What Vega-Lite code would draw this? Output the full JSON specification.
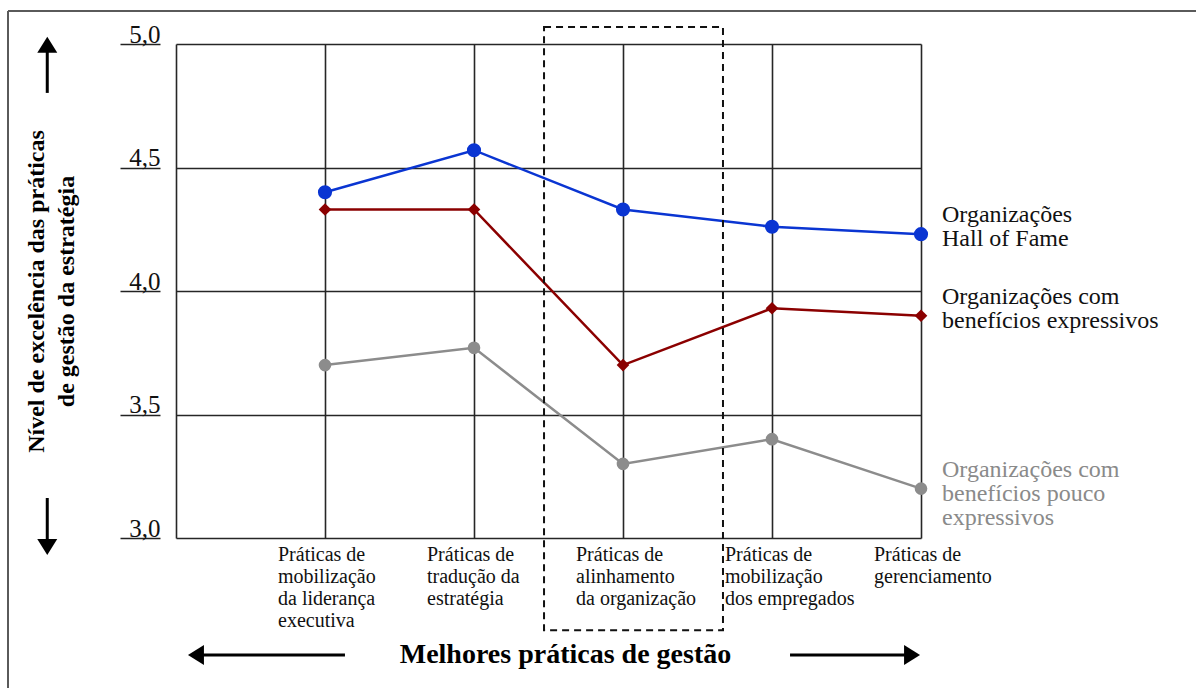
{
  "$schema": "https://vega.github.io/schema/vega-lite/v6.json",
  "width": 745,
  "height": 494,
  "autosize": {"type": "none"},
  "padding": {"left": 176, "top": 44, "right": 275, "bottom": 150},
  "background": "white",
  "config": {"view": {"stroke": null}, "font": "Liberation Serif"},
  "datasets": {
    "medias": [
      {"ordem": 1, "grupo": "Organizações\nHall of Fame", "valor": 4.40},
      {"ordem": 2, "grupo": "Organizações\nHall of Fame", "valor": 4.57},
      {"ordem": 3, "grupo": "Organizações\nHall of Fame", "valor": 4.33},
      {"ordem": 4, "grupo": "Organizações\nHall of Fame", "valor": 4.26},
      {"ordem": 5, "grupo": "Organizações\nHall of Fame", "valor": 4.23},
      {"ordem": 1, "grupo": "Organizações com\nbenefícios expressivos", "valor": 4.33},
      {"ordem": 2, "grupo": "Organizações com\nbenefícios expressivos", "valor": 4.33},
      {"ordem": 3, "grupo": "Organizações com\nbenefícios expressivos", "valor": 3.70},
      {"ordem": 4, "grupo": "Organizações com\nbenefícios expressivos", "valor": 3.93},
      {"ordem": 5, "grupo": "Organizações com\nbenefícios expressivos", "valor": 3.90},
      {"ordem": 1, "grupo": "Organizações com\nbenefícios pouco\nexpressivos", "valor": 3.70},
      {"ordem": 2, "grupo": "Organizações com\nbenefícios pouco\nexpressivos", "valor": 3.77},
      {"ordem": 3, "grupo": "Organizações com\nbenefícios pouco\nexpressivos", "valor": 3.30},
      {"ordem": 4, "grupo": "Organizações com\nbenefícios pouco\nexpressivos", "valor": 3.40},
      {"ordem": 5, "grupo": "Organizações com\nbenefícios pouco\nexpressivos", "valor": 3.20}
    ],
    "praticas": [
      {"ordem": 1, "pratica": "Práticas de\nmobilização\nda liderança\nexecutiva"},
      {"ordem": 2, "pratica": "Práticas de\ntradução da\nestratégia"},
      {"ordem": 3, "pratica": "Práticas de\nalinhamento\nda organização"},
      {"ordem": 4, "pratica": "Práticas de\nmobilização\ndos empregados"},
      {"ordem": 5, "pratica": "Práticas de\ngerenciamento"}
    ]
  },
  "resolve": {"axis": {"x": "independent", "y": "independent"}},
  "layer": [
    {
      "data": {"name": "medias"},
      "mark": {"type": "line", "strokeWidth": 2.5},
      "encoding": {
        "x": {
          "field": "ordem", "type": "quantitative",
          "scale": {"domain": [0, 5], "nice": false, "zero": false},
          "axis": {
            "values": [0, 1, 2, 3, 4, 5], "grid": true, "gridColor": "#262626", "gridWidth": 1.6,
            "domain": false, "ticks": false, "labels": false,
            "title": "Melhores práticas de gestão", "titleFont": "Liberation Serif", "titleFontSize": 28,
            "titleFontWeight": "bold", "titleColor": "#000", "titleX": 389, "titleY": 124,
            "titleAlign": "center", "titleBaseline": "alphabetic"
          }
        },
        "y": {
          "field": "valor", "type": "quantitative",
          "scale": {"domain": [3, 5], "nice": false, "zero": false},
          "axis": {
            "orient": "left",
            "values": [3, 3.5, 4, 4.5, 5], "grid": true, "gridColor": "#262626", "gridWidth": 1.6,
            "domain": false, "ticks": false, "labels": false,
            "title": ["Nível de excelência das práticas", "de gestão da estratégia"],
            "titleFont": "Liberation Serif", "titleFontSize": 24, "titleFontWeight": "bold",
            "titleLineHeight": 30, "titleColor": "#000", "titleAngle": -90,
            "titleX": -140, "titleY": 247, "titleAlign": "center", "titleBaseline": "middle"
          }
        },
        "color": {
          "field": "grupo", "type": "nominal",
          "scale": {
            "domain": ["Organizações\nHall of Fame", "Organizações com\nbenefícios expressivos", "Organizações com\nbenefícios pouco\nexpressivos"],
            "range": ["#0a35d2", "#8b0000", "#8c8c8c"]
          },
          "legend": null
        }
      }
    },
    {
      "data": {"name": "medias"},
      "mark": {"type": "point", "filled": true, "opacity": 1},
      "encoding": {
        "x": {"field": "ordem", "type": "quantitative", "axis": null},
        "y": {
          "field": "valor", "type": "quantitative",
          "axis": {
            "orient": "left",
            "values": [3, 3.5, 4, 4.5, 5], "grid": false, "domain": false, "offset": 16,
            "ticks": true, "tickSize": 40, "tickColor": "#222", "tickWidth": 1.5,
            "labelPadding": -40, "labelAlign": "right", "labelBaseline": "alphabetic", "labelOffset": -2,
            "labelFont": "Liberation Serif", "labelFontSize": 25, "labelColor": "#111",
            "labelExpr": "replace(format(datum.value, '.1f'), '.', ',')", "title": null
          }
        },
        "color": {"field": "grupo", "type": "nominal", "legend": null},
        "shape": {
          "field": "grupo", "type": "nominal",
          "scale": {
            "domain": ["Organizações\nHall of Fame", "Organizações com\nbenefícios expressivos", "Organizações com\nbenefícios pouco\nexpressivos"],
            "range": ["circle", "diamond", "circle"]
          },
          "legend": null
        },
        "size": {
          "condition": {"test": "datum.grupo == 'Organizações\\nHall of Fame'", "value": 200},
          "value": 160
        }
      }
    },
    {
      "data": {"name": "medias"},
      "transform": [{"filter": "datum.ordem == 5"}],
      "mark": {"type": "text", "align": "left", "baseline": "middle", "dx": 21, "dy": -19, "fontSize": 24, "lineHeight": 24, "lineBreak": "\n", "font": "Liberation Serif"},
      "encoding": {
        "x": {"field": "ordem", "type": "quantitative", "axis": null},
        "y": {"field": "valor", "type": "quantitative", "axis": null},
        "text": {"field": "grupo"},
        "color": {
          "condition": {"test": "indexof(datum.grupo, 'pouco') >= 0", "value": "#8a8a8a"},
          "value": "#111"
        }
      }
    },
    {
      "data": {"name": "praticas"},
      "mark": {"type": "text", "align": "left", "baseline": "top", "dx": -47, "dy": 7, "fontSize": 20, "lineHeight": 22, "lineBreak": "\n", "font": "Liberation Serif", "color": "#111"},
      "encoding": {
        "x": {"field": "ordem", "type": "quantitative", "axis": null},
        "y": {"datum": 3, "type": "quantitative", "axis": null},
        "text": {"field": "pratica"}
      }
    },
    {
      "data": {"values": [{}]},
      "mark": {"type": "rect", "fillOpacity": 0, "stroke": "#111", "strokeWidth": 2, "strokeDash": [7, 5]},
      "encoding": {
        "x": {"datum": 2.47, "type": "quantitative", "axis": null},
        "x2": {"datum": 3.671},
        "y": {"datum": 5.069, "type": "quantitative", "axis": null},
        "y2": {"datum": 2.627}
      }
    },
    {
      "data": {"values": [{}]},
      "mark": {"type": "rule", "stroke": "#5a5a5a", "strokeWidth": 2},
      "encoding": {
        "x": {"datum": -1.1275, "type": "quantitative", "axis": null},
        "x2": {"datum": 7},
        "y": {"datum": 5.1336, "type": "quantitative", "axis": null}
      }
    },
    {
      "data": {"values": [{}]},
      "mark": {"type": "rule", "stroke": "#5a5a5a", "strokeWidth": 2},
      "encoding": {
        "x": {"datum": -1.1275, "type": "quantitative", "axis": null},
        "y": {"datum": 5.1336, "type": "quantitative", "axis": null},
        "y2": {"datum": 2.0}
      }
    },
    {
      "data": {"values": [{}]},
      "mark": {"type": "rule", "stroke": "#000", "strokeWidth": 3},
      "encoding": {
        "x": {"datum": -0.864, "type": "quantitative", "axis": null},
        "y": {"datum": 4.99, "type": "quantitative", "axis": null},
        "y2": {"datum": 4.802}
      }
    },
    {
      "data": {"values": [{}]},
      "mark": {"type": "point", "filled": true, "opacity": 1, "color": "#000", "size": 400, "shape": "M0,-0.8L1,0.8L-1,0.8Z", "angle": 0},
      "encoding": {
        "x": {"datum": -0.864, "type": "quantitative", "axis": null},
        "y": {"datum": 4.997, "type": "quantitative", "axis": null}
      }
    },
    {
      "data": {"values": [{}]},
      "mark": {"type": "rule", "stroke": "#000", "strokeWidth": 3},
      "encoding": {
        "x": {"datum": -0.864, "type": "quantitative", "axis": null},
        "y": {"datum": 3.162, "type": "quantitative", "axis": null},
        "y2": {"datum": 2.97}
      }
    },
    {
      "data": {"values": [{}]},
      "mark": {"type": "point", "filled": true, "opacity": 1, "color": "#000", "size": 400, "shape": "M0,-0.8L1,0.8L-1,0.8Z", "angle": 180},
      "encoding": {
        "x": {"datum": -0.864, "type": "quantitative", "axis": null},
        "y": {"datum": 2.964, "type": "quantitative", "axis": null}
      }
    },
    {
      "data": {"values": [{}]},
      "mark": {"type": "rule", "stroke": "#000", "strokeWidth": 3},
      "encoding": {
        "x": {"datum": 0.134, "type": "quantitative", "axis": null},
        "x2": {"datum": 1.134},
        "y": {"datum": 2.526, "type": "quantitative", "axis": null}
      }
    },
    {
      "data": {"values": [{}]},
      "mark": {"type": "point", "filled": true, "opacity": 1, "color": "#000", "size": 400, "shape": "M0,-0.8L1,0.8L-1,0.8Z", "angle": -90},
      "encoding": {
        "x": {"datum": 0.134, "type": "quantitative", "axis": null},
        "y": {"datum": 2.526, "type": "quantitative", "axis": null}
      }
    },
    {
      "data": {"values": [{}]},
      "mark": {"type": "rule", "stroke": "#000", "strokeWidth": 3},
      "encoding": {
        "x": {"datum": 4.121, "type": "quantitative", "axis": null},
        "x2": {"datum": 4.94},
        "y": {"datum": 2.526, "type": "quantitative", "axis": null}
      }
    },
    {
      "data": {"values": [{}]},
      "mark": {"type": "point", "filled": true, "opacity": 1, "color": "#000", "size": 400, "shape": "M0,-0.8L1,0.8L-1,0.8Z", "angle": 90},
      "encoding": {
        "x": {"datum": 4.94, "type": "quantitative", "axis": null},
        "y": {"datum": 2.526, "type": "quantitative", "axis": null}
      }
    }
  ]
}
